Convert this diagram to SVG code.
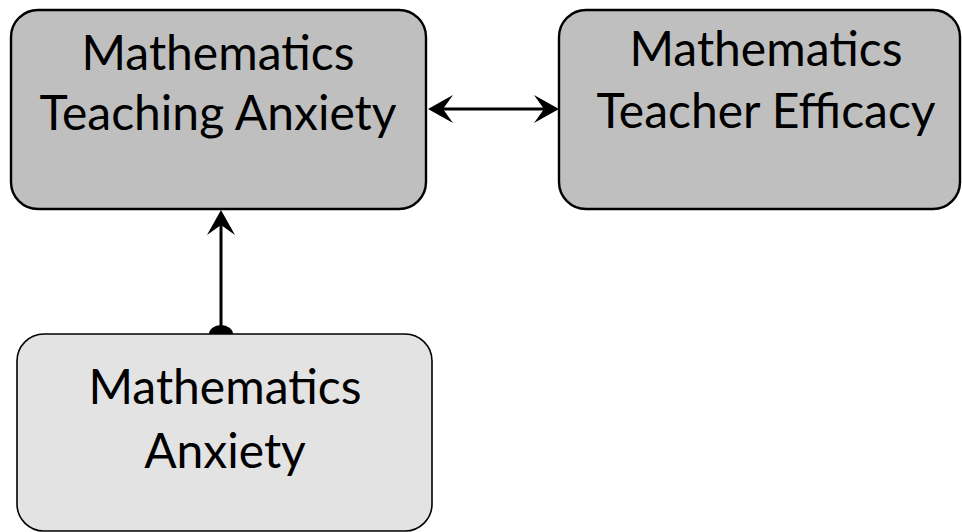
<svg xmlns="http://www.w3.org/2000/svg" width="962" height="532" viewBox="0 0 962 532">
<style>
.box{stroke:#000;stroke-width:2.4}
.dark{fill:#bfbfbf}
.light{fill:#e3e3e3;stroke-width:1.6}
.lbl{font-family:Lato,"Open Sans","Liberation Sans",sans-serif;font-size:48px;fill:#000;text-anchor:middle}
.conn{stroke:#000;stroke-width:3;fill:none}
</style>
<defs>
<marker id="ah" viewBox="0 0 25 28" refX="12" refY="14" markerWidth="25" markerHeight="28" markerUnits="userSpaceOnUse" orient="auto-start-reverse">
<path d="M25,14 L0,0 L10,14 L0,28 Z" fill="#000"/>
</marker>
</defs>
<g id="connectors">
<line class="conn" x1="441" y1="109" x2="546" y2="109" marker-start="url(#ah)" marker-end="url(#ah)"/>
<line class="conn" x1="221" y1="334" x2="221" y2="223" marker-end="url(#ah)"/>
<ellipse cx="221" cy="334" rx="12" ry="9" fill="#000"/>
</g>
<g id="node-mta">
<rect class="box dark" x="11" y="10" width="415" height="199" rx="27"/>
<text class="lbl" x="218" y="70">Mathematics</text>
<text class="lbl" x="218" y="130">Teaching Anxiety</text>
</g>
<g id="node-mte">
<rect class="box dark" x="559" y="10" width="401" height="199" rx="27"/>
<text class="lbl" x="766" y="66">Mathematics</text>
<text class="lbl" x="766" y="128">Teacher Efficacy</text>
</g>
<g id="node-ma">
<rect class="box light" x="17" y="334" width="415" height="197" rx="27"/>
<text class="lbl" x="225" y="404">Mathematics</text>
<text class="lbl" x="225" y="468">Anxiety</text>
</g>
</svg>
